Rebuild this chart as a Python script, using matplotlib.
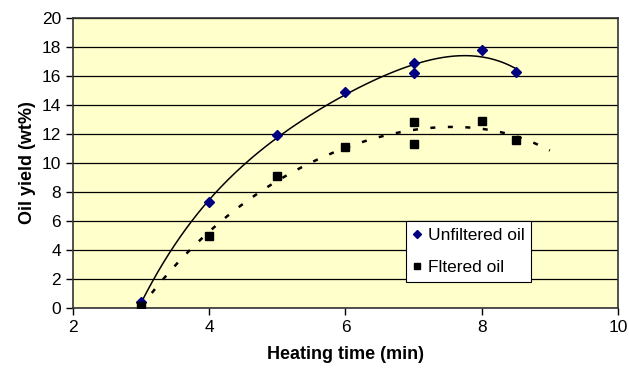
import numpy as np
import matplotlib
matplotlib.use("Agg")
import matplotlib.pyplot as plt

plt.rcParams['font.family'] = ['Liberation Sans', 'DejaVu Sans']

# data
time_unf = [3, 4, 5, 6, 7, 7, 8, 8.5]
yield_unf = [0.4, 7.3, 11.9, 14.9, 16.9, 16.2, 17.8, 16.3]
time_filt = [3, 4, 5, 6, 7, 7, 8, 8.5]
yield_filt = [0.15, 5.0, 9.1, 11.1, 12.8, 11.3, 12.9, 11.6]

fig = plt.figure(figsize=(6.29, 3.68), dpi=100)
ax = fig.add_axes([0.116, 0.163, 0.8665, 0.788])
ax.set_facecolor('#FFFFCC')

# polynomial trend lines (like the spreadsheet ones)
c1 = np.polyfit(time_unf, yield_unf, 4)
xs1 = np.linspace(3, 8.5, 200)
ax.plot(xs1, np.polyval(c1, xs1), color='black', lw=1.1, zorder=3)
c2 = np.polyfit(time_filt, yield_filt, 4)
xs2 = np.linspace(3, 9, 200)
ax.plot(xs2, np.polyval(c2, xs2), color='black', lw=1.8, ls=(0, (2, 5)), zorder=3)

ax.plot(time_unf, yield_unf, 'D', color='#000080', ms=5.5, ls='none',
        label='Unfiltered oil', zorder=4)
ax.plot(time_filt, yield_filt, 's', color='black', ms=5.5, ls='none',
        label='Fltered oil', zorder=4)

ax.set_xlim(2, 10)
ax.set_ylim(0, 20)
ax.set_xticks([2, 4, 6, 8, 10])
ax.set_yticks(range(0, 21, 2))
ax.yaxis.grid(True, color='black', lw=0.9)
ax.set_axisbelow(True)
for s in ax.spines.values():
    s.set_color('#333333')
    s.set_linewidth(1.2)
ax.tick_params(labelsize=12.5, direction='out', length=5, width=1)

ax.set_xlabel('Heating time (min)', fontsize=13, fontweight='bold', labelpad=8)
ax.set_ylabel('Oil yield (wt%)', fontsize=13, fontweight='bold', labelpad=4)

leg = ax.legend(loc='lower left', bbox_to_anchor=(0.611, 0.09), fontsize=12.5,
                frameon=True, fancybox=False, handlelength=0.5, handletextpad=0.35,
                borderpad=0.4, labelspacing=0.95, markerscale=0.8,
                borderaxespad=0)
leg.get_frame().set_edgecolor('black')
leg.get_frame().set_linewidth(0.8)
leg.get_frame().set_alpha(1)

fig.savefig('out.png', dpi=100)
